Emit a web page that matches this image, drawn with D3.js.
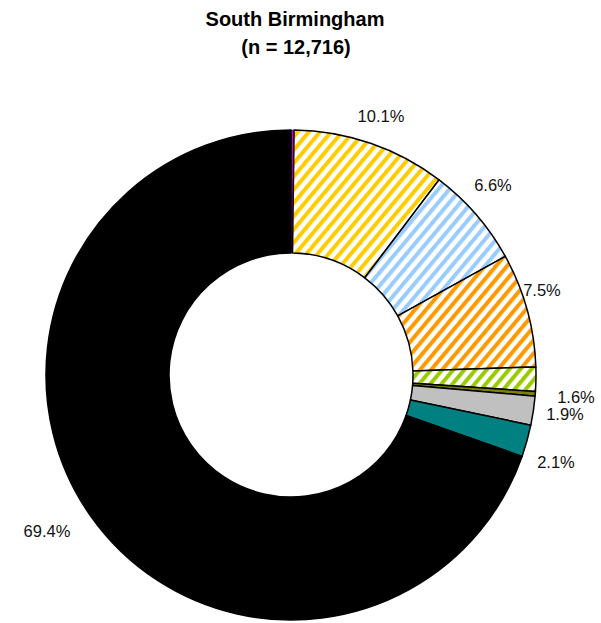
<!DOCTYPE html>
<html><head><meta charset="utf-8">
<script src="https://cdn.jsdelivr.net/npm/d3@7"></script>
<style>body{margin:0;background:#fff}</style>
</head><body>
<svg id="c" width="601" height="623"></svg>
<script>
const categories = ["Purple","Yellow","Light blue","Orange","Green","Olive","Gray","Teal","Black"];
const values = [0.2, 10.1, 6.6, 7.5, 1.6, 0.3, 1.9, 2.1, 69.4];
const labels = ["", "10.1%", "6.6%", "7.5%", "1.6%", "", "1.9%", "2.1%", "69.4%"];
const colors = ["#cc00cc","#ffcc00","#99ccff","#ff9900","#99cc00","#808000","#c0c0c0","#008080","#000000"];
const hatched = [false,true,true,true,true,false,false,false,false];
const labelPos = [null,[381,116],[493,185],[542,290],[576,397],null,[565,414],[556,462],[47,531]];

const svg = d3.select("#c");
const defs = svg.append("defs");
colors.forEach((c,i)=>{
  if(!hatched[i]) return;
  const p = defs.append("pattern").attr("id","h"+i).attr("patternUnits","userSpaceOnUse")
    .attr("width",8.5).attr("height",8.5).attr("patternTransform","rotate(40)");
  p.append("rect").attr("width",8.5).attr("height",8.5).attr("fill","#fff");
  p.append("rect").attr("width",4).attr("height",8.5).attr("fill",c);
});

const font = "'Liberation Sans', Arial, Helvetica, sans-serif";
svg.append("text").attr("x",295).attr("y",26).attr("text-anchor","middle")
  .attr("font-family",font).attr("font-weight","bold").attr("font-size",20).text("South Birmingham");
svg.append("text").attr("x",296).attr("y",54).attr("text-anchor","middle")
  .attr("font-family",font).attr("font-weight","bold").attr("font-size",20).text("(n = 12,716)");

const cx=291, cy=375, R=245, r=122;
const pie = d3.pie().sort(null).value(d=>d);
const arc = d3.arc().innerRadius(r).outerRadius(R);
const g = svg.append("g").attr("transform",`translate(${cx},${cy})`);
g.selectAll("path").data(pie(values)).join("path")
  .attr("d",arc)
  .attr("fill",(d,i)=>hatched[i]?`url(#h${i})`:colors[i])
  .attr("stroke","#000").attr("stroke-width",(d,i)=>i===0?0.3:1.5).attr("stroke-linejoin","round");

svg.selectAll("text.lbl").data(labels.map((l,i)=>({l,p:labelPos[i]})).filter(d=>d.l))
  .join("text").attr("class","lbl")
  .attr("x",d=>d.p[0]).attr("y",d=>d.p[1]+6).attr("text-anchor","middle")
  .attr("font-family",font).attr("font-size",16.5).attr("fill","#111")
  .text(d=>d.l);
</script>
</body></html>
